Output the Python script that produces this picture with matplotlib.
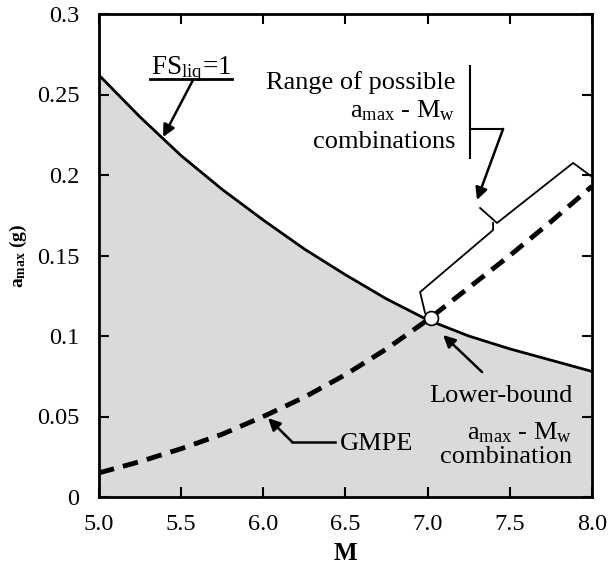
import matplotlib
matplotlib.use('Agg')
import matplotlib.pyplot as plt
import numpy as np

# Curve values
magnitude = [5.0, 5.25, 5.5, 5.75, 6.0, 6.25, 6.5, 6.75, 7.0, 7.25, 7.5, 7.75, 8.0]
fs_liq = [0.262, 0.236, 0.212, 0.191, 0.172, 0.154, 0.138, 0.123, 0.110, 0.100, 0.092, 0.085, 0.078]
gmpe = [0.015, 0.022, 0.030, 0.039, 0.050, 0.062, 0.076, 0.092, 0.110, 0.130, 0.150, 0.171, 0.193]

# Lower-bound combination
lb_m = 7.02
lb_a = 0.111

# Bracket along the GMPE, from the lower bound to M = 8
bracket_upper_x = [7.319, 7.422, 7.885, 8.001]
bracket_upper_y = [0.1795, 0.1702, 0.2075, 0.1988]
bracket_lower_x = [7.398, 7.398, 6.954, 6.984]
bracket_lower_y = [0.1702, 0.1658, 0.1273, 0.1143]

x_ticks = [5.0, 5.5, 6.0, 6.5, 7.0, 7.5, 8.0]
x_tick_labels = ['5.0', '5.5', '6.0', '6.5', '7.0', '7.5', '8.0']
y_ticks = [0, 0.05, 0.1, 0.15, 0.2, 0.25, 0.3]
y_tick_labels = ['0', '0.05', '0.1', '0.15', '0.2', '0.25', '0.3']

plt.rcParams['font.family'] = 'Liberation Serif'
plt.rcParams['mathtext.fontset'] = 'custom'
plt.rcParams['mathtext.rm'] = 'Liberation Serif'
plt.rcParams['mathtext.it'] = 'Liberation Serif:italic'
plt.rcParams['mathtext.bf'] = 'Liberation Serif:bold'

fig = plt.figure(figsize=(6.1, 5.73), dpi=100)
ax = fig.add_axes([99 / 610, 76 / 573, 493 / 610, 483 / 573])

# Shaded region under the FS=1 curve
ax.fill_between(magnitude, 0, fs_liq, color='#dadada', lw=0)
ax.plot(magnitude, fs_liq, color='black', lw=2)
ax.plot(magnitude, gmpe, color='black', lw=3.5, dashes=(3.2, 1.9))
ax.plot([lb_m], [lb_a], marker='o', ms=10, mfc='white', mec='black', mew=1.2, zorder=5)

ax.plot(bracket_upper_x, bracket_upper_y, color='black', lw=1.3, clip_on=False)
ax.plot(bracket_lower_x, bracket_lower_y, color='black', lw=1.3, clip_on=False)

ax.set_xlim(5.0, 8.0)
ax.set_ylim(0, 0.3)
ax.set_xticks(x_ticks)
ax.set_xticklabels(x_tick_labels)
ax.set_yticks(y_ticks)
ax.set_yticklabels(y_tick_labels)
ax.tick_params(direction='in', length=7, width=1.5, top=True, right=True, labelsize=17.5)
ax.tick_params(axis='x', pad=12)
ax.tick_params(axis='y', pad=14)
for s in ax.spines.values():
    s.set_linewidth(2)

ax.set_xlabel('M', fontsize=18, fontweight='bold', labelpad=5)
ax.set_ylabel(r'$\mathbf{a_{max}}$ $\mathbf{(g)}$', fontsize=14, labelpad=6)

arrow = dict(arrowstyle='-|>', color='black', lw=1.8, mutation_scale=18, shrinkA=0, shrinkB=0)
fs = 19

# FS_liq = 1 label with underline
ax.text(5.56, 0.2625, r'FS$_{\mathrm{liq}}$=1', fontsize=19.5, ha='center', va='baseline')
ax.plot([5.31, 5.81], [0.2596, 0.2596], color='black', lw=2)
ax.annotate('', xy=(5.39, 0.2236), xytext=(5.572, 0.259), arrowprops=arrow)

# Range of possible combinations
ax.text(7.167, 0.2534, 'Range of possible', fontsize=fs, ha='right', va='baseline')
ax.text(7.167, 0.236, r'a$_{\mathrm{max}}$ - M$_{\mathrm{w}}$', fontsize=fs, ha='right', va='baseline')
ax.text(7.167, 0.2168, 'combinations', fontsize=fs, ha='right', va='baseline')
ax.plot([7.258, 7.258], [0.2106, 0.268], color='black', lw=1.5)
ax.plot([7.258, 7.459], [0.2286, 0.2286], color='black', lw=1.5)
ax.annotate('', xy=(7.30, 0.1845), xytext=(7.459, 0.2286), arrowprops=arrow)

# Lower-bound combination
ax.text(7.879, 0.0592, 'Lower-bound', fontsize=fs, ha='right', va='baseline')
ax.text(7.879, 0.036, r'a$_{\mathrm{max}}$ - M$_{\mathrm{w}}$', fontsize=fs, ha='right', va='baseline')
ax.text(7.879, 0.0211, 'combination', fontsize=fs, ha='right', va='baseline')
ax.annotate('', xy=(7.094, 0.1006), xytext=(7.331, 0.0776), arrowprops=arrow)

# GMPE label
ax.text(6.467, 0.029, 'GMPE', fontsize=fs, ha='left', va='baseline')
ax.plot([6.175, 6.436], [0.0342, 0.0342], color='black', lw=1.8)
ax.annotate('', xy=(6.029, 0.049), xytext=(6.175, 0.0342), arrowprops=arrow)

plt.savefig('out.png', dpi=100)
